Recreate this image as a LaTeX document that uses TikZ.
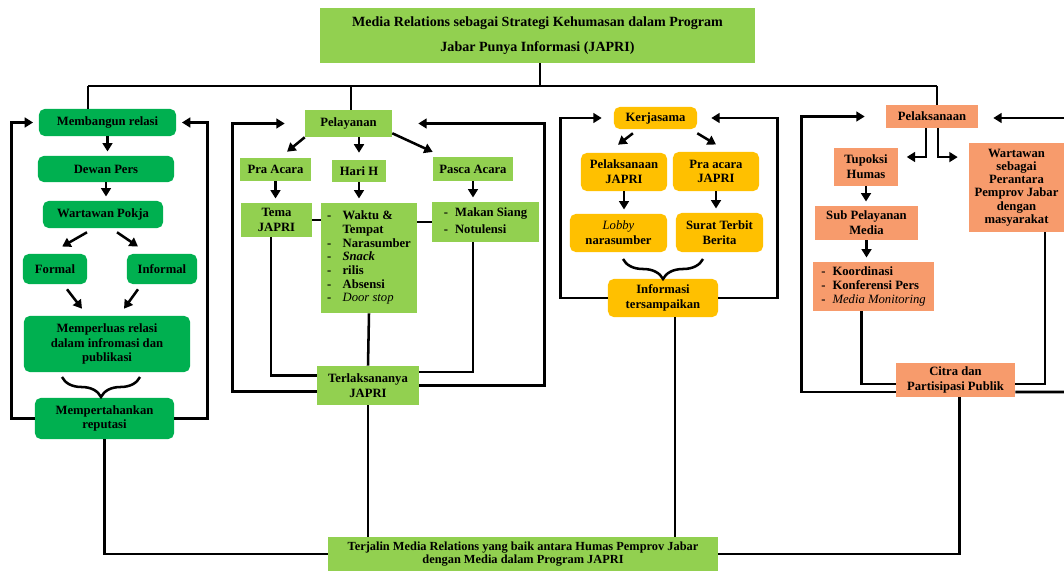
\documentclass[tikz,border=0pt]{standalone}
\usepackage{fontspec}
\setmainfont{Liberation Serif}
\usetikzlibrary{arrows.meta,decorations.pathreplacing}
\definecolor{hijautua}{HTML}{00B050}
\definecolor{hijaumuda}{HTML}{92D050}
\definecolor{emas}{HTML}{FFC000}
\definecolor{jingga}{HTML}{F79B6C}

\begin{document}
\begin{tikzpicture}[x=0.025cm,y=-0.025cm,
    kotak/.style={inner sep=0, align=center, text=black, font=\bfseries\fontsize{9}{10.5}\selectfont},
    hijau/.style={kotak, fill=hijautua, rounded corners=4pt},
    muda/.style={kotak, fill=hijaumuda},
    kuning/.style={kotak, fill=emas, rounded corners=4pt},
    oranye/.style={kotak, fill=jingga},
    garis/.style={line width=1.8pt, black},
    panah/.style={garis, -{Triangle[length=6pt,width=7pt]}},
    kurung/.style={garis, decorate, decoration={brace, amplitude=0.5cm}}]
    \useasboundingbox (0,0) rectangle (1064,571);
    \path
    (537.5,35.5)node[muda, minimum width=10.875cm, minimum height=1.375cm, font=\bfseries\fontsize{10}{18}\selectfont](judul){Media Relations sebagai Strategi Kehumasan dalam Program\\Jabar Punya Informasi (JAPRI)}
    (523,554)node[muda, minimum width=9.75cm, minimum height=0.85cm, font=\bfseries\fontsize{8.8}{9.3}\selectfont](hasil){Terjalin Media Relations yang baik antara Humas Pemprov Jabar\\dengan Media dalam Program JAPRI}
    ;
    \path
    (107.5,122.5)node[hijau, minimum width=3.425cm, minimum height=0.675cm](bangun){Membangun relasi}
    (106,169)node[hijau, minimum width=3.4cm, minimum height=0.65cm](dewan){Dewan Pers}
    (103,214.5)node[hijau, minimum width=3cm, minimum height=0.675cm](pokja){Wartawan Pokja}
    (55,269)node[hijau, minimum width=1.6cm, minimum height=0.75cm](formal){Formal}
    (162,269)node[hijau, minimum width=1.75cm, minimum height=0.75cm](informal){Informal}
    (107,344)node[hijau, minimum width=4.15cm, minimum height=1.4cm](luas){Memperluas relasi\\dalam infromasi dan\\publikasi}
    (104.5,418.5)node[hijau, minimum width=3.475cm, minimum height=1.025cm](tahan){Mempertahankan\\reputasi}
    ;
    \path
    (348.5,123.5)node[muda, minimum width=2.175cm, minimum height=0.675cm](layan){Pelayanan}
    (275.5,169.5)node[muda, minimum width=1.775cm, minimum height=0.575cm](pra){Pra Acara}
    (359,171)node[muda, minimum width=1.35cm, minimum height=0.55cm](harih){Hari H}
    (473,169)node[muda, minimum width=2cm, minimum height=0.6cm](pasca){Pasca Acara}
    (276.5,220)node[muda, minimum width=1.775cm, minimum height=0.85cm](tema){Tema\\JAPRI}
    (369,258)node[muda, minimum width=2.4cm, minimum height=2.75cm, font=\bfseries\fontsize{9}{9.7}\selectfont](isih){\begin{tabular}{@{}l@{\hspace{8pt}}l@{}}
        - & Waktu \& \\
          & Tempat \\
        - & Narasumber \\
        - & \textit{Snack} \\
        - & rilis \\
        - & Absensi \\
        - & \textmd{\textit{Door stop}}
        \end{tabular}}
    (485.5,222)node[muda, minimum width=2.675cm, minimum height=1cm, font=\bfseries\fontsize{9}{12}\selectfont](isipasca){\begin{tabular}{@{}l@{\hspace{5pt}}l@{}}
        - & Makan Siang \\
        - & Notulensi
        \end{tabular}}
    (368,385.5)node[muda, minimum width=2.55cm, minimum height=0.975cm](laksana){Terlaksananya\\JAPRI}
    ;
    \path
    (655.5,118)node[kuning, minimum width=2.075cm, minimum height=0.55cm](kerja){Kerjasama}
    (624,172)node[kuning, minimum width=2.15cm, minimum height=0.95cm](pelak){Pelaksanaan\\JAPRI}
    (716,171.5)node[kuning, minimum width=2.15cm, minimum height=0.975cm](praj){Pra acara\\JAPRI}
    (618.5,233)node[kuning, minimum width=2.425cm, minimum height=0.95cm](lobi){\textmd{\textit{Lobby}}\\narasumber}
    (719.5,232.5)node[kuning, minimum width=2.175cm, minimum height=0.975cm](surat){Surat Terbit\\Berita}
    (663,298)node[kuning, minimum width=2.75cm, minimum height=0.95cm](info){Informasi\\tersampaikan}
    ;
    \path
    (932,116.5)node[oranye, minimum width=2.3cm, minimum height=0.575cm](laks){Pelaksanaan}
    (866,167)node[oranye, minimum width=1.6cm, minimum height=0.95cm](tupoksi){Tupoksi\\Humas}
    (866.5,223)node[oranye, minimum width=2.575cm, minimum height=0.85cm](subpel){Sub Pelayanan\\Media}
    (873.5,286.5)node[oranye, minimum width=3.025cm, minimum height=1.225cm, font=\bfseries\fontsize{9}{10}\selectfont](giat){\begin{tabular}{@{}l@{\hspace{5pt}}l@{}}
        - & Koordinasi \\
        - & Konferensi Pers \\
        - & \textmd{\textit{Media Monitoring}}
        \end{tabular}}
    (1016.5,187.5)node[oranye, minimum width=2.375cm, minimum height=2.225cm, font=\bfseries\fontsize{9}{9.4}\selectfont](wartawan){Wartawan\\sebagai\\Perantara\\Pemprov Jabar\\dengan\\masyarakat}
    (955.5,380)node[oranye, minimum width=2.975cm, minimum height=0.85cm](citra){Citra dan\\Partisipasi Publik}
    ;
    \coordinate (c0) at (540,86);
    \coordinate (c1) at (88,86);
    \coordinate (c2) at (351,86);
    \coordinate (c4) at (937,86);
    \coordinate (tepi1) at (1064,392);
    \coordinate (tepi2) at (1064,118);
    \draw[garis] (judul.south -| c0) -- (c0);
    \draw[garis] (c1) -- (c4);
    \draw[garis] (c1) -- (c1 |- bangun.north);
    \draw[garis] (c2) -- (c2 |- layan.north);
    \draw[garis] (c4) -- (c4 |- laks.north);

    \draw[panah, shorten >=3pt] (bangun.south) -- (bangun.south |- dewan.north);
    \draw[panah, shorten >=3pt] (dewan.south) -- (dewan.south |- pokja.north);
    \draw[panah] ([xshift=-0.4cm,yshift=-0.1cm]pokja.south) -- ([xshift=0.18cm,yshift=0.18cm]formal.north);
    \draw[panah] ([xshift=0.35cm,yshift=-0.1cm]pokja.south) -- ([xshift=-0.6cm,yshift=0.18cm]informal.north);
    \draw[panah] ([xshift=0.3cm,yshift=-0.125cm]formal.south) -- ([xshift=-0.625cm,yshift=0.175cm]luas.north);
    \draw[panah] ([xshift=-0.6cm,yshift=-0.125cm]informal.south) -- ([xshift=0.425cm,yshift=0.175cm]luas.north);
    \draw[kurung] (140,377) -- (62,377);
    \draw[panah, shorten >=4pt] (tahan.west) -- ++(-23,0) |- (bangun.west);
    \draw[panah, shorten >=4pt] (tahan.east) -- ++(33,0) |- (bangun.east);
    \draw[garis] (tahan.south) |- (hasil.west);

    \draw[panah] (layan.south west) -- ([xshift=0.29cm,yshift=0.15cm]pra.north);
    \draw[panah, shorten >=5pt] (layan.south -| harih.north) -- (harih.north);
    \draw[panah] ([yshift=0.1cm]layan.south east) -- ([yshift=0.12cm]pasca.north west);
    \draw[panah, shorten >=3pt] (pra.south) -- (pra.south |- tema.north);
    \draw[panah, shorten >=3pt] (harih.south) -- (harih.south |- isih.north);
    \draw[panah, shorten >=3pt] (pasca.south) -- (pasca.south |- isipasca.north);
    \draw[garis] (tema.east) -- (tema.east -| isih.west);
    \draw[garis] (isih.east |- isipasca.west) -- (isipasca.west);
    \draw[garis] ([xshift=-0.14cm]tema.south) |- ([yshift=0.25cm]laksana.west);
    \draw[garis] (isih.south) -- (laksana.north);
    \draw[garis] (isipasca.south -| pasca.south) |- ([yshift=0.34cm]laksana.east);
    \draw[panah, shorten >=0.5cm] ([yshift=-0.15cm]laksana.west) -- ++(-84,0) |- (layan.west);
    \draw[panah, shorten >=0.65cm] (laksana.east) -- ++(125,0) |- (layan.east);
    \draw[garis] (laksana.south) -- (laksana.south |- hasil.north);

    \draw[panah] ([xshift=0.48cm,yshift=-0.1cm]kerja.south west) -- ([xshift=-0.15cm,yshift=0.2cm]pelak.north);
    \draw[panah] ([yshift=-0.1cm]kerja.south east) -- ([yshift=0.18cm]praj.north);
    \draw[panah, shorten >=3pt] (pelak.south) -- (pelak.south |- lobi.north);
    \draw[panah, shorten >=3pt] (praj.south) -- (praj.south |- surat.north);
    \draw[kurung] (703,259) -- (623,259);
    \draw[panah, shorten >=0.3cm] (info.west) -- ++(-47,0) |- (kerja.west);
    \draw[panah, shorten >=0.35cm] (info.east) -- ++(59,0) |- (kerja.east);
    \draw[garis] ([xshift=0.3cm]info.south) -- ([xshift=0.3cm]info.south |- hasil.north);

    \draw[panah, shorten >=6pt] ([xshift=-0.15cm]laks.south) |- ([yshift=0.25cm]tupoksi.east);
    \draw[panah, shorten >=0.275cm] ([xshift=0.15cm]laks.south) |- ([yshift=0.76cm]wartawan.west);
    \draw[panah, shorten >=3pt] (tupoksi.south) -- (tupoksi.south |- subpel.north);
    \draw[panah, shorten >=3pt] (subpel.south) -- (subpel.south |- giat.north);
    \draw[garis] ([xshift=-0.3cm]giat.south) |- ([yshift=-0.1cm]citra.west);
    \draw[garis] ([xshift=0.71cm]wartawan.south) |- ([yshift=-0.1cm]citra.east);
    \draw[panah, shorten >=0.525cm] ([yshift=-0.3cm]citra.west) -- ++(-94,0) |- (laks.west);
    \draw[garis] ([yshift=-0.3cm]citra.east) -- (tepi1);
    \draw[panah, shorten >=0.375cm] (tepi2) -- (tepi2 -| laks.east);
    \draw[garis] ([xshift=0.1cm]citra.south) |- (hasil.east);
\end{tikzpicture}
\end{document}
